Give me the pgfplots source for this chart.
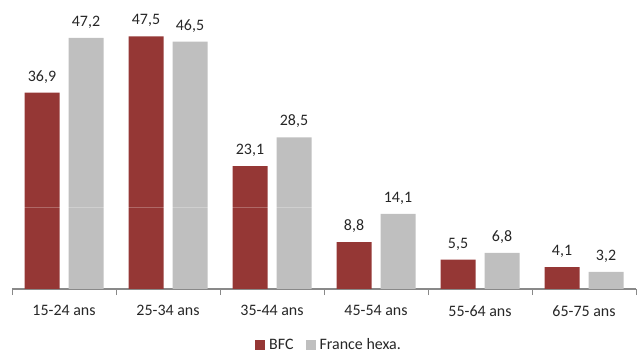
\documentclass[border=0pt]{standalone}
\usepackage{pgfplots}
\pgfplotsset{compat=1.18}
\usepackage{fontspec}
\setmainfont{Carlito}
\definecolor{bfc}{HTML}{953735}
\definecolor{fra}{HTML}{BFBFBF}
\definecolor{axgray}{HTML}{898989}
\begin{document}
\begin{tikzpicture}
\path[use as bounding box] (0,0) rectangle (640bp,353bp);
\begin{axis}[
  at={(12bp,64bp)}, anchor=south west,
  scale only axis, width=624bp, height=266bp,
  xmin=-0.5, xmax=5.5, ymin=0, ymax=50,
  ybar=9bp, bar width=35bp,
  axis x line*=bottom, axis y line=none,
  axis line style={axgray, line width=1.2bp},
  xtick={0,...,5},
  xticklabels={15-24 ans,25-34 ans,35-44 ans,45-54 ans,55-64 ans,65-75 ans},
  major tick length=0pt,
  minor xtick={-0.5,0.5,...,5.5},
  minor tick length=6bp,
  tick align=outside,
  minor tick style={axgray, line width=1bp},
  ytick=\empty,
  tick label style={font=\fontsize{16}{19}\selectfont, text=black!85},
  xticklabel style={yshift=-13bp},
  /pgf/number format/assume math mode=true,
  /pgf/number format/.cd, use comma, fixed, fixed zerofill, precision=1, /pgfplots/.cd,
  nodes near coords,
  nodes near coords style={font=\fontsize{16}{19}\selectfont, text=black!85, anchor=south, yshift=6bp},
  legend style={at={(axis description cs:0.5,-0.21)}, anchor=center, draw=none,
    legend columns=2, font=\fontsize{16}{19}\selectfont, text=black!85},
  legend image code/.code={\draw[white, line width=0.1bp] (-10bp,0bp) -- (12bp,0bp); \fill[#1] (0bp,-5bp) rectangle (10bp,5bp);},
]
\addplot[fill=bfc, draw=none] coordinates {(0,36.9) (1,47.5) (2,23.1) (3,8.8) (4,5.5) (5,4.1)};
\addlegendentry{BFC}
\addplot[fill=fra, draw=none] coordinates {(0,47.2) (1,46.5) (2,28.5) (3,14.1) (4,6.8) (5,3.2)};
\addlegendentry{France hexa.}
\addplot[forget plot, draw=white, draw opacity=0.25, line width=1bp, nodes near coords=\empty, sharp plot] coordinates {(-0.5,15.4) (5.5,15.4)};
\end{axis}
\end{tikzpicture}
\end{document}
